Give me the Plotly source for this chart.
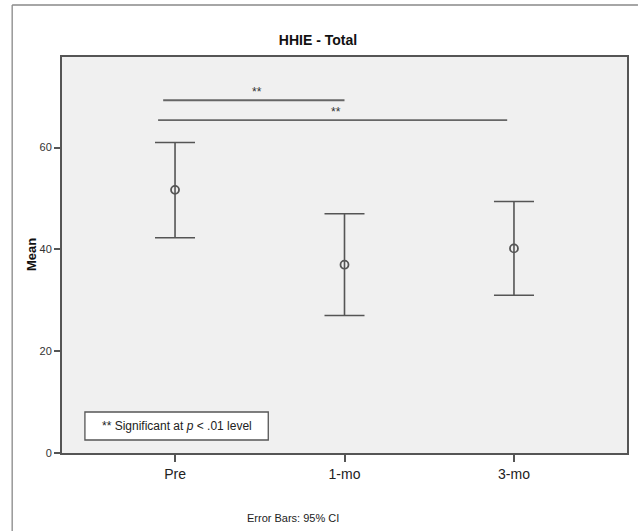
import plotly.graph_objects as go

# ---- data ----
categories = ["Pre", "1-mo", "3-mo"]
means = [51.7, 37.0, 40.2]
ci_upper = [61.0, 47.0, 49.4]
ci_lower = [42.3, 27.0, 31.0]
y_ticks = [0, 20, 40, 60]

# significance brackets
sig_start = [-0.07, -0.10]
sig_end = [1.0, 1.96]
sig_level = [69.3, 65.4]
sig_label = ["**", "**"]

W, H = 638, 531
L, R, T, B = 62, 9, 57, 78
pw, ph = W - L - R, H - T - B

FONT = "Arial, 'Liberation Sans', sans-serif"
AX = "#555555"

def px2paper_x(px):
    return (px - L) / pw

def py2paper_y(py):
    return (H - B - py) / ph

xs = list(range(len(categories)))
err_plus = [u - m for u, m in zip(ci_upper, means)]
err_minus = [m - l for m, l in zip(means, ci_lower)]

fig = go.Figure()
fig.add_trace(go.Scatter(
    x=xs, y=means, mode="markers",
    marker=dict(symbol="circle-open", size=8, color=AX, line=dict(width=1.8, color=AX)),
    error_y=dict(type="data", symmetric=False, array=err_plus, arrayminus=err_minus,
                 color=AX, thickness=1.6, width=20),
    showlegend=False, hoverinfo="skip",
))

# significance lines and stars
for s, e, lv, lab in zip(sig_start, sig_end, sig_level, sig_label):
    fig.add_shape(type="line", xref="x", yref="y", x0=s, x1=e, y0=lv, y1=lv,
                  line=dict(color="#666666", width=1.8))
    fig.add_annotation(x=(s + e) / 2 + 0.02, y=lv, xref="x", yref="y", text=lab,
                       showarrow=False, yanchor="bottom", yshift=-1,
                       font=dict(family=FONT, size=12, color="#333333"))

# legend-like box
fig.add_shape(type="rect", xref="paper", yref="paper",
              x0=px2paper_x(85), x1=px2paper_x(269), y0=py2paper_y(440), y1=py2paper_y(412),
              fillcolor="white", line=dict(color="#555555", width=1.3))
fig.add_annotation(xref="paper", yref="paper", x=px2paper_x(177), y=py2paper_y(426),
                   text="** Significant at <i>p</i> < .01 level", showarrow=False,
                   xanchor="center", yanchor="middle",
                   font=dict(family=FONT, size=12, color="#222222"))

# outer frame (top and left lines)
fig.add_shape(type="line", xref="paper", yref="paper",
              x0=px2paper_x(12), x1=px2paper_x(640), y0=py2paper_y(5), y1=py2paper_y(5),
              line=dict(color="#888888", width=1.3))
fig.add_shape(type="line", xref="paper", yref="paper",
              x0=px2paper_x(12), x1=px2paper_x(12), y0=py2paper_y(5), y1=py2paper_y(540),
              line=dict(color="#888888", width=1.3))

# y-axis title
fig.add_annotation(xref="paper", yref="paper", x=px2paper_x(31), y=py2paper_y(255),
                   text="<b>Mean</b>", textangle=-90, showarrow=False,
                   xanchor="center", yanchor="middle",
                   font=dict(family=FONT, size=13, color="#111111"))

# footer
fig.add_annotation(xref="paper", yref="paper", x=px2paper_x(294), y=py2paper_y(518),
                   text="Error Bars: 95% CI", showarrow=False, xanchor="center", yanchor="middle",
                   font=dict(family=FONT, size=11, color="#222222"))

fig.update_layout(
    width=W, height=H,
    margin=dict(l=L, r=R, t=T, b=B, pad=0),
    paper_bgcolor="white", plot_bgcolor="#f0f0f0",
    title=dict(text="<b>HHIE - Total</b>", x=318 / W, xanchor="center",
               y=1 - 40 / H, yanchor="middle", font=dict(family=FONT, size=14, color="#111111")),
    font=dict(family=FONT),
)
fig.update_xaxes(
    range=[-0.667, 2.667], tickvals=xs, ticktext=categories,
    showgrid=False, zeroline=False, showline=True, linecolor=AX, linewidth=2, mirror=True,
    ticks="outside", ticklen=7, tickwidth=1.5, tickcolor=AX,
    tickfont=dict(family=FONT, size=14, color="#222222"),
)
fig.update_yaxes(
    range=[0, 77.8], tickvals=y_ticks,
    showgrid=False, zeroline=False, showline=True, linecolor=AX, linewidth=2, mirror=True,
    ticks="outside", ticklen=6, tickwidth=1.5, tickcolor=AX,
    tickfont=dict(family=FONT, size=11, color="#333333"),
)

fig.write_html("out.html")
